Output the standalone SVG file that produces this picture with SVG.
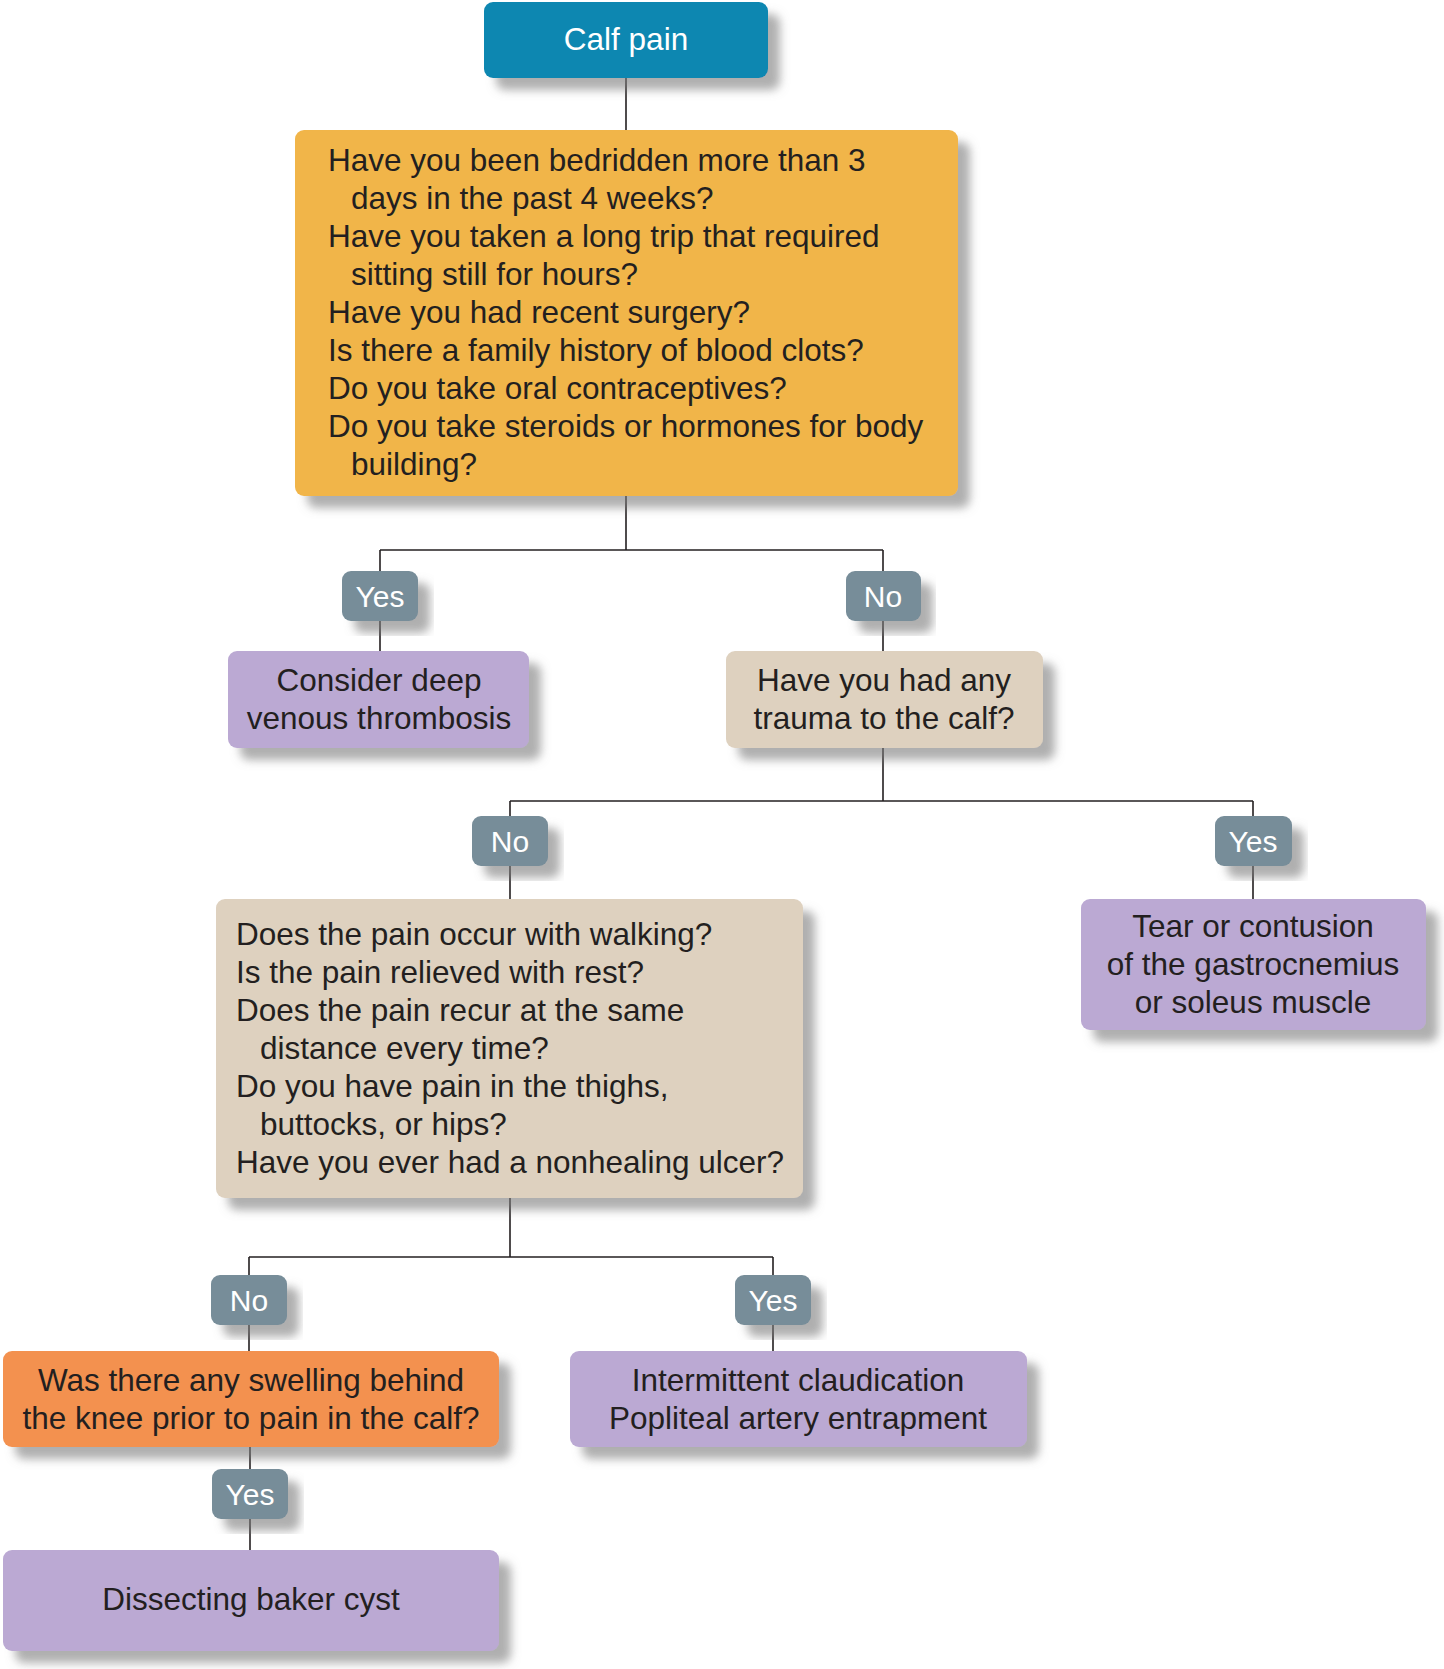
<svg xmlns="http://www.w3.org/2000/svg" width="1444" height="1669" viewBox="0 0 1444 1669">
<defs>
<filter id="sh" x="-10%" y="-10%" width="130%" height="140%">
<feDropShadow dx="12" dy="12" stdDeviation="5" flood-color="#7a7a7a" flood-opacity="0.6"/>
</filter>
<style>
.t{font-family:"Liberation Sans",Arial,sans-serif;font-size:31.5px;fill:#231f20}
.c{text-anchor:middle}
.w{fill:#ffffff}
.lbl{font-family:"Liberation Sans",Arial,sans-serif;font-size:30px;fill:#ffffff;text-anchor:middle}
.conn line{stroke:#231f20;stroke-width:1.6}
.teal{fill:#0f87b1}
.gold{fill:#f1b54a}
.gray{fill:#778d99}
.purple{fill:#bba9d3}
.beige{fill:#ded1bf}
.orange{fill:#f3914f}
</style>
</defs>
<rect width="1444" height="1669" fill="#ffffff"/>
<g id="connectors" class="conn">
<line x1="626" y1="78" x2="626" y2="130"/>
<line x1="626" y1="496" x2="626" y2="550"/>
<line x1="380" y1="550" x2="883" y2="550"/>
<line x1="380" y1="550" x2="380" y2="651"/>
<line x1="883" y1="550" x2="883" y2="651"/>
<line x1="883" y1="748" x2="883" y2="801"/>
<line x1="510" y1="801" x2="1253" y2="801"/>
<line x1="510" y1="801" x2="510" y2="899"/>
<line x1="1253" y1="801" x2="1253" y2="899"/>
<line x1="510" y1="1198" x2="510" y2="1257"/>
<line x1="249" y1="1257" x2="773" y2="1257"/>
<line x1="249" y1="1257" x2="249" y2="1351"/>
<line x1="773" y1="1257" x2="773" y2="1351"/>
<line x1="250" y1="1447" x2="250" y2="1550"/>
</g>
<g id="calf-pain">
<rect class="teal" x="484" y="2" width="284" height="76" rx="9" filter="url(#sh)"/>
<text class="t c w" x="626" y="50">Calf pain</text>
</g>
<g id="risk-questions">
<rect class="gold" x="295" y="130" width="663" height="366" rx="9" filter="url(#sh)"/>
<text class="t" x="328" y="171">Have you been bedridden more than 3</text>
<text class="t" x="351" y="209">days in the past 4 weeks?</text>
<text class="t" x="328" y="247">Have you taken a long trip that required</text>
<text class="t" x="351" y="285">sitting still for hours?</text>
<text class="t" x="328" y="323">Have you had recent surgery?</text>
<text class="t" x="328" y="361">Is there a family history of blood clots?</text>
<text class="t" x="328" y="399">Do you take oral contraceptives?</text>
<text class="t" x="328" y="437">Do you take steroids or hormones for body</text>
<text class="t" x="351" y="475">building?</text>
</g>
<g id="yes1">
<rect class="gray" x="342" y="571" width="76" height="50" rx="9" filter="url(#sh)"/>
<text class="lbl" x="380" y="607">Yes</text>
</g>
<g id="no1">
<rect class="gray" x="846" y="571" width="75" height="50" rx="9" filter="url(#sh)"/>
<text class="lbl" x="883" y="607">No</text>
</g>
<g id="dvt">
<rect class="purple" x="228" y="651" width="301" height="97" rx="9" filter="url(#sh)"/>
<text class="t c" x="379" y="691">Consider deep</text>
<text class="t c" x="379" y="729">venous thrombosis</text>
</g>
<g id="trauma">
<rect class="beige" x="726" y="651" width="317" height="97" rx="9" filter="url(#sh)"/>
<text class="t c" x="884" y="691">Have you had any</text>
<text class="t c" x="884" y="729">trauma to the calf?</text>
</g>
<g id="no2">
<rect class="gray" x="472" y="816" width="76" height="50" rx="9" filter="url(#sh)"/>
<text class="lbl" x="510" y="852">No</text>
</g>
<g id="yes2">
<rect class="gray" x="1215" y="816" width="77" height="50" rx="9" filter="url(#sh)"/>
<text class="lbl" x="1253" y="852">Yes</text>
</g>
<g id="walking-questions">
<rect class="beige" x="216" y="899" width="587" height="299" rx="9" filter="url(#sh)"/>
<text class="t" x="236" y="945">Does the pain occur with walking?</text>
<text class="t" x="236" y="983">Is the pain relieved with rest?</text>
<text class="t" x="236" y="1021">Does the pain recur at the same</text>
<text class="t" x="260" y="1059">distance every time?</text>
<text class="t" x="236" y="1097">Do you have pain in the thighs,</text>
<text class="t" x="260" y="1135">buttocks, or hips?</text>
<text class="t" x="236" y="1173">Have you ever had a nonhealing ulcer?</text>
</g>
<g id="tear">
<rect class="purple" x="1081" y="899" width="345" height="131" rx="9" filter="url(#sh)"/>
<text class="t c" x="1253" y="937">Tear or contusion</text>
<text class="t c" x="1253" y="975">of the gastrocnemius</text>
<text class="t c" x="1253" y="1013">or soleus muscle</text>
</g>
<g id="no3">
<rect class="gray" x="211" y="1275" width="76" height="50" rx="9" filter="url(#sh)"/>
<text class="lbl" x="249" y="1311">No</text>
</g>
<g id="yes3">
<rect class="gray" x="735" y="1275" width="76" height="50" rx="9" filter="url(#sh)"/>
<text class="lbl" x="773" y="1311">Yes</text>
</g>
<g id="swelling">
<rect class="orange" x="3" y="1351" width="496" height="96" rx="9" filter="url(#sh)"/>
<text class="t c" x="251" y="1391">Was there any swelling behind</text>
<text class="t c" x="251" y="1429">the knee prior to pain in the calf?</text>
</g>
<g id="claudication">
<rect class="purple" x="570" y="1351" width="457" height="96" rx="9" filter="url(#sh)"/>
<text class="t c" x="798" y="1391">Intermittent claudication</text>
<text class="t c" x="798" y="1429">Popliteal artery entrapment</text>
</g>
<g id="yes4">
<rect class="gray" x="212" y="1469" width="76" height="50" rx="9" filter="url(#sh)"/>
<text class="lbl" x="250" y="1505">Yes</text>
</g>
<g id="baker-cyst">
<rect class="purple" x="3" y="1550" width="496" height="101" rx="9" filter="url(#sh)"/>
<text class="t c" x="251" y="1610">Dissecting baker cyst</text>
</g>
</svg>
